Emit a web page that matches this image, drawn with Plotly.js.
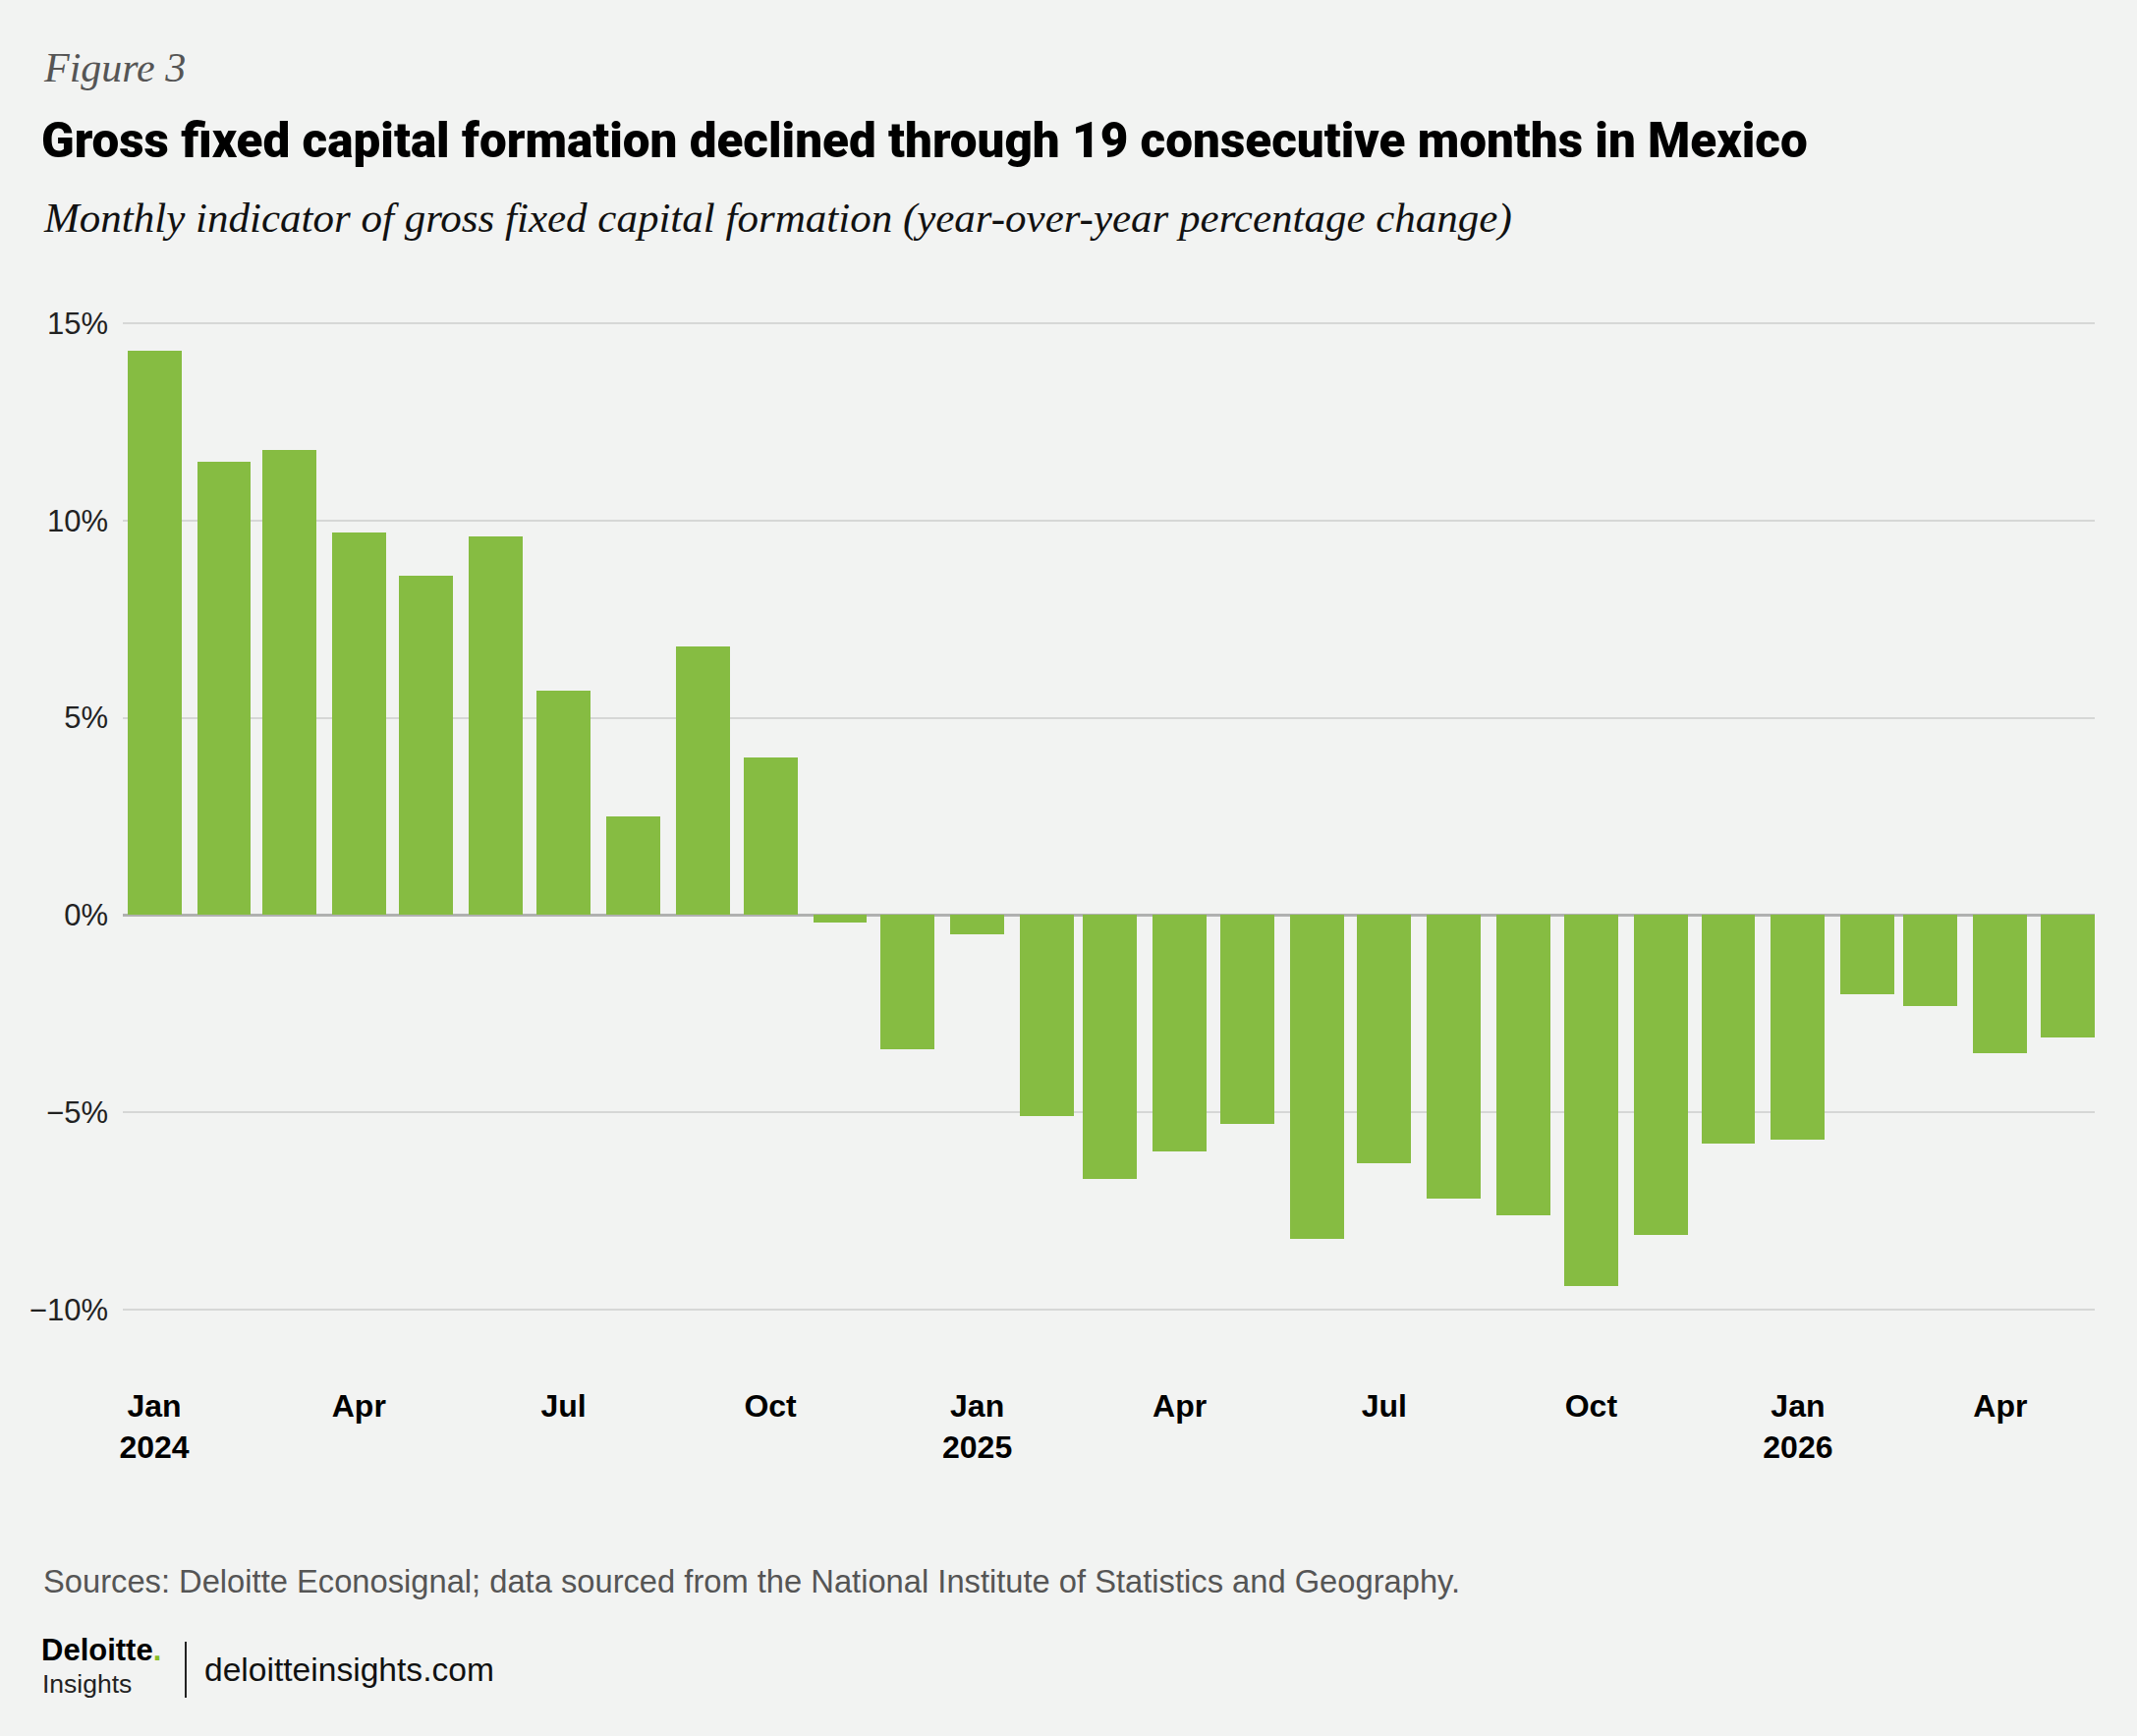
<!DOCTYPE html>
<html>
<head>
<meta charset="utf-8">
<script src="https://cdn.plot.ly/plotly-3.0.1.min.js"></script>
<style>
  html, body { margin: 0; padding: 0; background: #f2f3f2; }
  #chart { width: 2175px; height: 1767px; }
</style>
</head>
<body>
<div id="chart"></div>
<script>
// monthly GFCF indicator, y/y % change
var months = ['2024-01-01', '2024-02-01', '2024-03-01', '2024-04-01', '2024-05-01', '2024-06-01',
	'2024-07-01', '2024-08-01', '2024-09-01', '2024-10-01', '2024-11-01', '2024-12-01',
	'2025-01-01', '2025-02-01', '2025-03-01', '2025-04-01', '2025-05-01', '2025-06-01',
	'2025-07-01', '2025-08-01', '2025-09-01', '2025-10-01', '2025-11-01', '2025-12-01',
	'2026-01-01', '2026-02-01', '2026-03-01', '2026-04-01', '2026-05-01'];
var gfcfYoY = [14.3, 11.5, 11.8, 9.7, 8.6, 9.6, 5.7, 2.5, 6.8, 4.0, -0.2, -3.4,
	-0.5, -5.1, -6.7, -6.0, -5.3, -8.2, -6.3, -7.2, -7.6, -9.4, -8.1, -5.8,
	-5.7, -2.0, -2.3, -3.5, -3.1];

var tickDates = ['2024-01-01', '2024-04-01', '2024-07-01', '2024-10-01', '2025-01-01',
	'2025-04-01', '2025-07-01', '2025-10-01', '2026-01-01', '2026-04-01'];
var tickLabels = ['Jan<br>2024', 'Apr', 'Jul', 'Oct', 'Jan<br>2025', 'Apr', 'Jul', 'Oct', 'Jan<br>2026', 'Apr'];
var yTicks = [-10, -5, 0, 5, 10, 15];
var yTickLabels = ['\u221210%', '\u22125%', '0%', '5%', '10%', '15%'];

var green = '#86bc42';
var bg = '#f2f3f2';
var dayMs = 86400000;

var trace = {
	type: 'bar',
	x: months,
	y: gfcfYoY,
	width: months.map(function () { return 24 * dayMs; }),
	marker: { color: green, line: { width: 0 } },
	hoverinfo: 'x+y'
};

var W = 2175, H = 1767;
var M = { l: 125, r: 43, t: 309, b: 414 };
// container px -> plot-area paper fraction
function px(x) { return (x - M.l) / (W - M.l - M.r); }
function py(y) { return (H - y - M.b) / (H - M.t - M.b); }

var layout = {
	width: W,
	height: H,
	paper_bgcolor: bg,
	plot_bgcolor: bg,
	showlegend: false,
	margin: M,
	font: { family: 'Liberation Sans, Roboto, sans-serif', color: '#222' },
	title: {
		text: 'Gross fixed capital formation declined through 19 consecutive months in Mexico',
		xref: 'container', yref: 'container',
		x: 42 / W, y: 1 - 143 / H,
		xanchor: 'left', yanchor: 'middle',
		font: { family: 'Roboto, sans-serif', size: 49.4, color: '#000', weight: 900 }
	},
	xaxis: {
		type: 'date',
		range: ['2023-12-18', '2026-05-13'],
		tickmode: 'array',
		tickvals: tickDates,
		ticktext: tickLabels,
		showgrid: false,
		zeroline: false,
		showline: false,
		ticks: '',
		ticklabelstandoff: 56,
		tickfont: { family: 'Liberation Sans, sans-serif', size: 32, color: '#000', weight: 'bold' },
		fixedrange: true
	},
	yaxis: {
		range: [-10.5, 15.5],
		tickmode: 'array',
		tickvals: yTicks,
		ticktext: yTickLabels,
		showgrid: true,
		gridcolor: '#d6d7d6',
		gridwidth: 2,
		zeroline: true,
		zerolinecolor: '#b0b1b0',
		zerolinewidth: 3,
		showline: false,
		ticks: '',
		ticklabelstandoff: 14,
		tickfont: { family: 'Liberation Sans, sans-serif', size: 31, color: '#222' },
		fixedrange: true
	},
	bargap: 0,
	annotations: [
		{
			text: '<i>Figure 3</i>',
			xref: 'paper', yref: 'paper', x: px(42), y: py(69),
			xanchor: 'left', yanchor: 'middle', showarrow: false,
			font: { family: 'Liberation Serif, serif', size: 42, color: '#555' }
		},
		{
			text: '<i>Monthly indicator of gross fixed capital formation (year-over-year percentage change)</i>',
			xref: 'paper', yref: 'paper', x: px(42), y: py(222),
			xanchor: 'left', yanchor: 'middle', showarrow: false,
			font: { family: 'Liberation Serif, serif', size: 43, color: '#111' }
		},
		{
			text: 'Sources: Deloitte Econosignal; data sourced from the National Institute of Statistics and Geography.',
			xref: 'paper', yref: 'paper', x: px(42), y: py(1609),
			xanchor: 'left', yanchor: 'middle', showarrow: false,
			font: { family: 'Liberation Sans, sans-serif', size: 32.7, color: '#555' }
		},
		{
			text: '<b>Deloitte</b><span style="color:#86bc25"><b>.</b></span>',
			xref: 'paper', yref: 'paper', x: px(40), y: py(1679),
			xanchor: 'left', yanchor: 'middle', showarrow: false,
			font: { family: 'Liberation Sans, sans-serif', size: 31, color: '#000' }
		},
		{
			text: 'Insights',
			xref: 'paper', yref: 'paper', x: px(41), y: py(1714),
			xanchor: 'left', yanchor: 'middle', showarrow: false,
			font: { family: 'Liberation Sans, sans-serif', size: 26.5, color: '#222' }
		},
		{
			text: 'deloitteinsights.com',
			xref: 'paper', yref: 'paper', x: px(206), y: py(1699),
			xanchor: 'left', yanchor: 'middle', showarrow: false,
			font: { family: 'Liberation Sans, sans-serif', size: 33.6, color: '#111' }
		}
	],
	shapes: [
		{
			type: 'line', xref: 'paper', yref: 'paper',
			x0: px(189), x1: px(189), y0: py(1671), y1: py(1728),
			line: { color: '#222', width: 2 }
		}
	]
};

Plotly.newPlot('chart', [trace], layout, { displayModeBar: false, staticPlot: true });
</script>
</body>
</html>
